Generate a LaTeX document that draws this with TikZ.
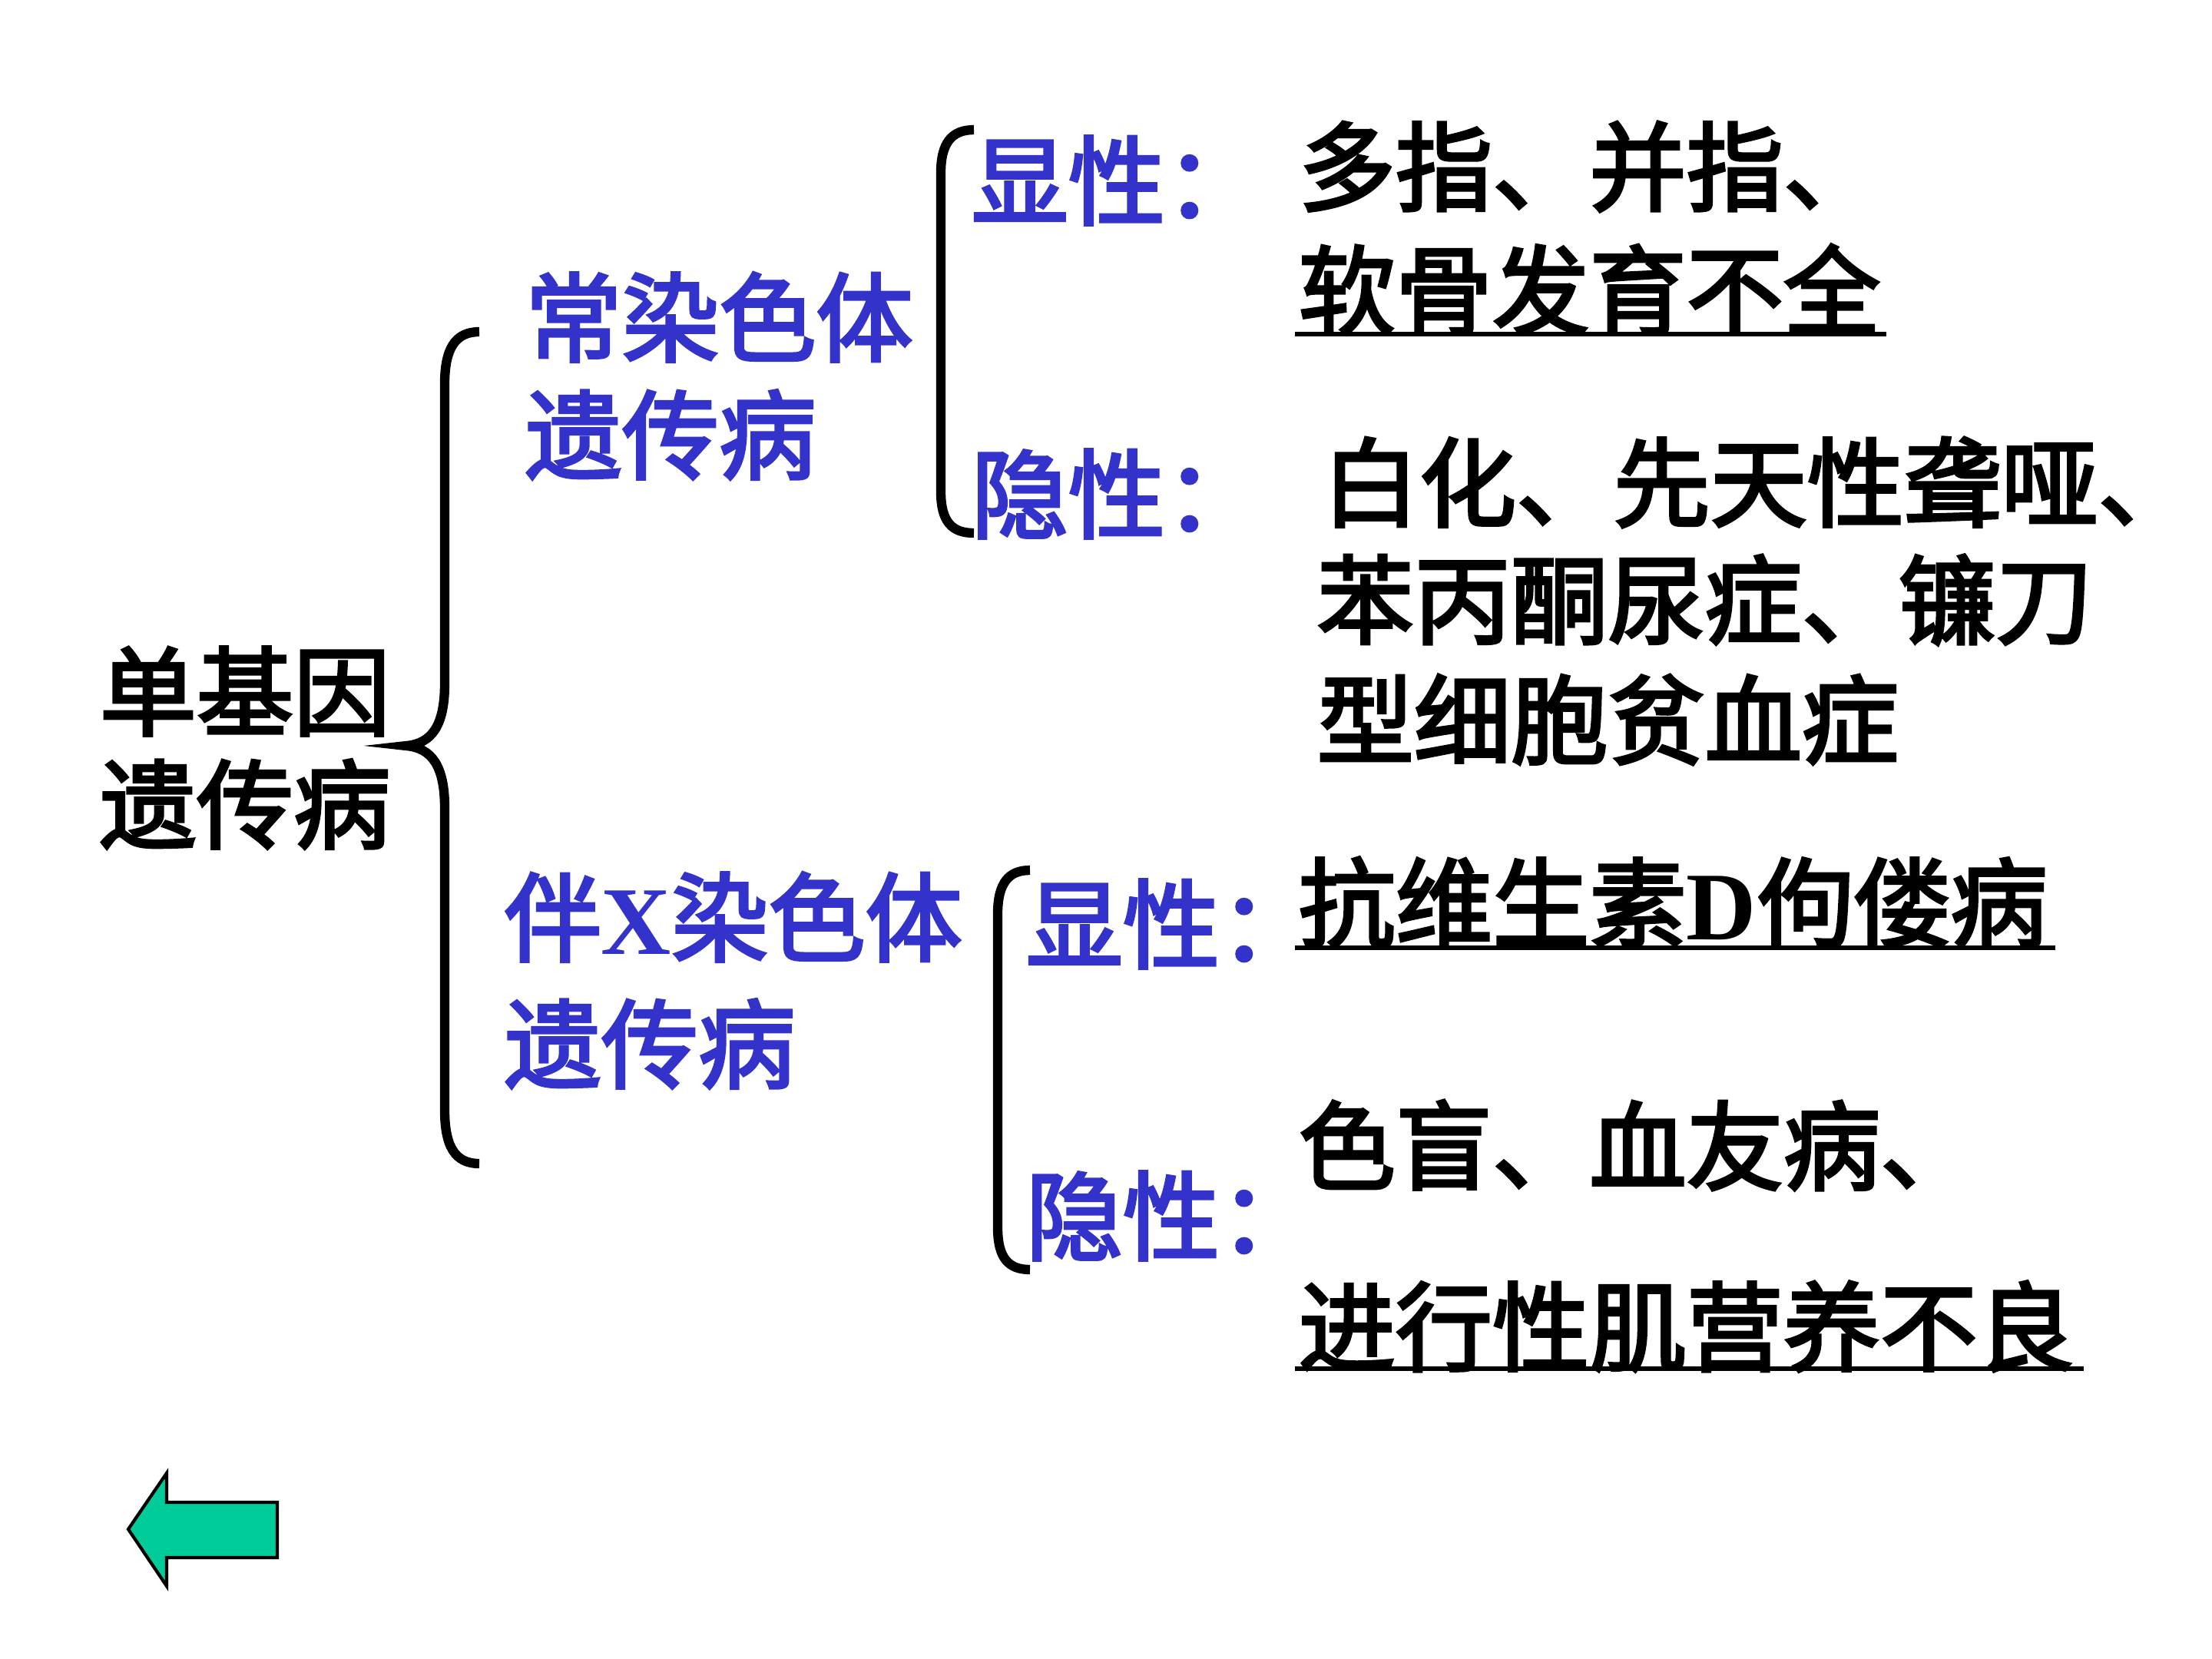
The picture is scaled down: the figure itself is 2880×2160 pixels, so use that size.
\documentclass[tikz,border=0pt]{standalone}
\usepackage{fontspec}
\newfontfamily\cjk{Noto Sans CJK SC}[FakeBold=3]
\newfontfamily\latb{Liberation Serif Bold}
\definecolor{tblue}{HTML}{3333CC}
\definecolor{agreen}{HTML}{00CC99}
\tikzset{
  txt/.style={anchor=west, inner sep=0pt, font=\cjk\fontsize{35.9pt}{40pt}\selectfont},
  bluetxt/.style={txt, text=tblue},
  brace/.style={line width=3.5pt, line cap=butt},
  uline/.style={line width=1.6pt},
}
\newcommand{\LX}[1]{{\latb #1}}
\begin{document}
\begin{tikzpicture}[x=0.01cm,y=-0.01cm]
\useasboundingbox (0,0) rectangle (2880,2160);
% left title
\node[txt] (r1) at (129,900) {单基因};
\node[txt] (r2) at (129,1047) {遗传病};
% big brace
\draw[brace] (624,432) .. controls (592,432) and (579,455) .. (579,500) -- (579,890)
  .. controls (579,945) and (562,968) .. (529,971)
  .. controls (562,974) and (579,997) .. (579,1052) -- (579,1445)
  .. controls (579,1492) and (592,1515) .. (624,1515);
% autosomal
\node[bluetxt] (a1) at (683,413) {常染色体};
\node[bluetxt] (a2) at (683,566) {遗传病};
\draw[brace] (1268,169) .. controls (1240,169) and (1225,185) .. (1225,225) -- (1225,640)
  .. controls (1225,680) and (1240,694) .. (1268,694);
\node[bluetxt] (ad) at (1264,235) {显性：};
\node[bluetxt] (ar) at (1264,643) {隐性：};
\node[txt] (t1) at (1690,217) {多指、并指、};
\node[txt] (t2) at (1690,377) {软骨发育不全};
\draw[uline] (1686,435) -- (2456,435);
\node[txt] (t3) at (1721,628) {白化、先天性聋哑、};
\node[txt] (t4) at (1714,781) {苯丙酮尿症、镰刀};
\node[txt] (t5) at (1714,937) {型细胞贫血症};
% X-linked
\node[bluetxt] (b1) at (656,1194) {伴\LX{X}染色体};
\node[bluetxt] (b2) at (656,1359) {遗传病};
\draw[brace] (1341,1133) .. controls (1313,1133) and (1299,1150) .. (1299,1190) -- (1299,1598)
  .. controls (1299,1638) and (1313,1653) .. (1341,1653);
\node[bluetxt] (bd) at (1335,1203) {显性：};
\node[bluetxt] (br) at (1335,1583) {隐性：};
\node[txt] (t6) at (1690,1175) {抗维生素\LX{D}佝偻病};
\draw[uline] (1686,1234) -- (2676,1234);
\node[txt] (t7) at (1690,1491) {色盲、血友病、};
\node[txt] (t8) at (1690,1727) {进行性肌营养不良};
\draw[uline] (1686,1782) -- (2713,1782);
% back arrow
\draw[line width=1.2pt, fill=agreen, line join=miter]
  (361,1956) -- (217,1956) -- (217,1918) -- (167,1991) -- (217,2065) -- (217,2028) -- (361,2028) -- cycle;
\end{tikzpicture}
\end{document}
